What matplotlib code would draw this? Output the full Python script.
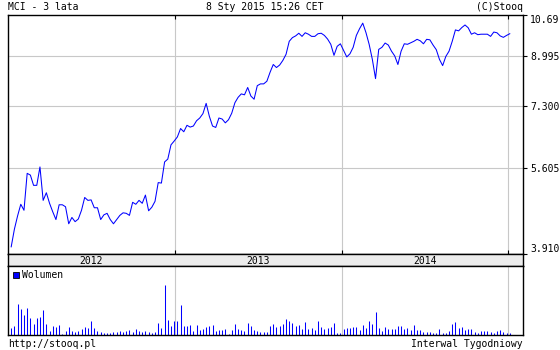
import matplotlib
matplotlib.use("Agg")
import matplotlib.pyplot as plt
import pandas as pd

# tygodniowe notowania MCI (zamkniecia) i wolumen
dates = pd.date_range("2012-01-08", periods=157, freq="7D")

close = [4.03, 4.34, 4.59, 4.82, 4.70, 5.49, 5.45, 5.22, 5.22, 5.64,
         4.90, 5.06, 4.84, 4.67, 4.52, 4.81, 4.81, 4.77, 4.44, 4.56,
         4.48, 4.53, 4.70, 4.96, 4.90, 4.91, 4.75, 4.75, 4.52, 4.61,
         4.64, 4.52, 4.44, 4.52, 4.60, 4.65, 4.64, 4.60, 4.86, 4.82,
         4.90, 4.84, 5.01, 4.69, 4.76, 4.88, 5.28, 5.27, 5.76, 5.83,
         6.19, 6.29, 6.40, 6.63, 6.54, 6.72, 6.67, 6.70, 6.85, 6.93,
         7.06, 7.37, 6.98, 6.70, 6.66, 6.93, 6.90, 6.79, 6.88, 7.07,
         7.39, 7.56, 7.67, 7.64, 7.88, 7.60, 7.50, 7.94, 8.00, 8.00,
         8.09, 8.40, 8.68, 8.57, 8.66, 8.83, 9.06, 9.57, 9.72, 9.79,
         9.90, 9.77, 9.92, 9.86, 9.77, 9.77, 9.88, 9.90, 9.81, 9.66,
         9.45, 9.02, 9.37, 9.47, 9.21, 8.96, 9.08, 9.33, 9.81, 10.09,
         10.33, 9.93, 9.45, 8.87, 8.18, 9.25, 9.33, 9.50, 9.42, 9.18,
         9.00, 8.68, 9.18, 9.47, 9.45, 9.51, 9.57, 9.65, 9.59, 9.47,
         9.65, 9.63, 9.42, 9.24, 8.87, 8.64, 8.98, 9.18, 9.57, 10.04,
         10.00, 10.14, 10.25, 10.13, 9.86, 9.92, 9.84, 9.86, 9.86, 9.86,
         9.77, 9.95, 9.92, 9.79, 9.73, 9.81, 9.88]

volume = [7, 9, 31, 26, 20, 27, 17, 11, 17, 18, 25, 11, 4, 9, 8, 10, 1, 4, 8, 4,
          3, 4, 6, 8, 7, 14, 7, 4, 3, 2, 2, 2, 3, 3, 4, 3, 4, 5, 3, 6,
          4, 3, 4, 3, 2, 3, 12, 7, 49, 15, 9, 14, 14, 30, 9, 9, 10, 4, 10, 5,
          6, 8, 9, 10, 4, 5, 5, 6, 1, 5, 11, 6, 5, 4, 12, 9, 5, 4, 3, 3,
          3, 9, 11, 8,
          9, 11, 16, 14, 12, 9, 10, 6, 13, 6, 7, 5, 14, 8, 6, 7, 8, 12, 2, 2,
          6, 7, 7, 8, 8, 5, 10, 7, 14, 11, 23, 7, 4, 8, 6, 6, 6, 9, 9, 6,
          7, 5, 10, 5, 5, 3, 3, 3, 2, 2, 6, 2, 2, 4, 11, 13, 7, 8, 5, 6,
          6, 3, 2, 4, 4, 4, 3, 2, 4, 5, 3, 2, 2]

ticks = [3.910, 5.605, 7.300, 8.995, 10.69]
tick_labels = ["3.910", "5.605", "7.300", "8.995", "10.69"]
years = ["2012", "2013", "2014"]

FONT = "DejaVu Sans Mono"
FS = 7
BLUE = "#0000ff"
GRID = "#c8c8c8"

plt.rcParams["font.family"] = FONT
plt.rcParams["font.size"] = FS

fig = plt.figure(figsize=(5.6, 3.5), dpi=100)
W, H = 560.0, 350.0


def box(left, top, right, bottom):
    return [left / W, 1 - bottom / H, (right - left) / W, (bottom - top) / H]


x0 = pd.Timestamp("2012-01-01")
x1 = pd.Timestamp("2015-02-02")
year_starts = [pd.Timestamp(f"{y}-01-01") for y in (2013, 2014, 2015)]

# wykres ceny
ax = fig.add_axes(box(8, 15, 523, 254))
ax.plot(dates, close, color=BLUE, lw=0.75)
ax.set_yscale("log")
ax.set_ylim(3.910, 10.69)
ax.set_xlim(x0, x1)
ax.yaxis.tick_right()
ax.set_yticks(ticks)
ax.set_yticklabels(tick_labels)
ax.yaxis.set_minor_locator(matplotlib.ticker.NullLocator())
ax.tick_params(axis="y", direction="out", length=3, width=0.8, pad=2, labelsize=FS)
ax.set_xticks(year_starts)
ax.tick_params(axis="x", direction="in", length=3, width=0.8,
               top=True, bottom=True, labelbottom=False)
for y in ticks[1:-1]:
    ax.axhline(y, color=GRID, lw=0.8, zorder=0)
for d in year_starts:
    ax.axvline(d, color=GRID, lw=0.8, zorder=0)
labels = ax.get_yticklabels()
labels[0].set_va("bottom")
labels[-1].set_va("top")
for s in ax.spines.values():
    s.set_linewidth(1.0)

# pasek z latami
band = fig.add_axes(box(8, 254, 523, 266))
band.set_facecolor("#ececec")
band.set_xlim(x0, x1)
band.set_ylim(0, 1)
band.set_xticks([])
band.set_yticks([])
bounds = [x0] + year_starts
for i, lab in enumerate(years):
    mid = bounds[i] + (bounds[i + 1] - bounds[i]) / 2
    band.text(mid, 0.45, lab, ha="center", va="center", fontsize=FS)
for s in band.spines.values():
    s.set_linewidth(1.0)

# wolumen
axv = fig.add_axes(box(8, 266, 523, 335))
axv.vlines(dates, 0, volume, color=BLUE, lw=0.75)
axv.set_xlim(x0, x1)
axv.set_ylim(0, 68)
axv.set_xticks([])
axv.set_yticks([])
for d in year_starts:
    axv.axvline(d, color=GRID, lw=0.8, zorder=0)
axv.plot([0.0155], [0.865], marker="s", ms=4.5, mfc=BLUE, mec="black",
         mew=0.6, transform=axv.transAxes)
axv.text(0.027, 0.865, "Wolumen", transform=axv.transAxes,
         ha="left", va="center", fontsize=FS)
for s in axv.spines.values():
    s.set_linewidth(1.0)

# napisy
fig.text(8 / W, 1 - 7 / H, "MCI - 3 lata", ha="left", va="center", fontsize=FS)
fig.text(265 / W, 1 - 7 / H, "8 Sty 2015 15:26 CET", ha="center", va="center", fontsize=FS)
fig.text(523 / W, 1 - 7 / H, "(C)Stooq", ha="right", va="center", fontsize=FS)
fig.text(8 / W, 1 - 344 / H, "http://stooq.pl", ha="left", va="center", fontsize=FS)
fig.text(523 / W, 1 - 344 / H, "Interwal Tygodniowy", ha="right", va="center", fontsize=FS)

fig.savefig("out.png", dpi=100)
